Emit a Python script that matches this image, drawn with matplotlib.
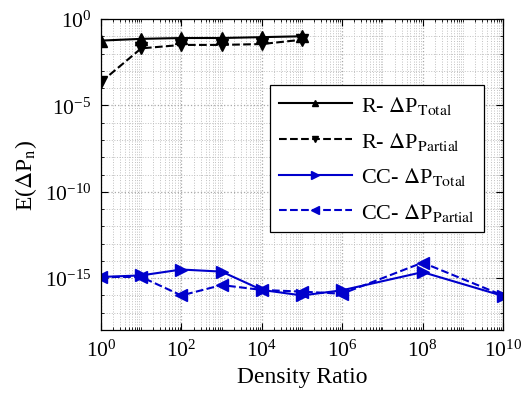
import matplotlib
matplotlib.use("Agg")
import matplotlib.pyplot as plt
import numpy as np
from matplotlib.ticker import LogLocator, NullFormatter, FixedLocator

plt.rcParams['font.family'] = ['Liberation Serif', 'DejaVu Serif']
plt.rcParams['mathtext.fontset'] = 'stix'

# Data (exponents of 10)
x_r = [1e0, 1e1, 1e2, 1e3, 1e4, 1e5]
r_total_exp = [-1.25, -1.15, -1.1, -1.1, -1.05, -1.0]
r_partial_exp = [-3.65, -1.7, -1.5, -1.5, -1.45, -1.2]

x_cc = [1e0, 1e1, 1e2, 1e3, 1e4, 1e5, 1e6, 1e8, 1e10]
cc_total_exp = [-14.93, -14.84, -14.5, -14.62, -15.68, -16.0, -15.7, -14.65, -16.03]
cc_partial_exp = [-14.93, -14.93, -16.0, -15.4, -15.68, -15.78, -15.9, -14.1, -16.0]

labels = [r'R- $\Delta$P$_{\mathrm{Total}}$', r'R- $\Delta$P$_{\mathrm{Partial}}$',
          r'CC- $\Delta$P$_{\mathrm{Total}}$', r'CC- $\Delta$P$_{\mathrm{Partial}}$']

fig = plt.figure(figsize=(5.25, 4.06), dpi=100)
ax = fig.add_axes([101/525, 1-331/406, 402/525, 311/406])

blue = '#0000cc'
ax.plot(x_r, 10.0**np.array(r_total_exp), '-', color='black', lw=1.5, marker='^', ms=8, label=labels[0])
ax.plot(x_r, 10.0**np.array(r_partial_exp), '--', color='black', lw=1.5, marker='v', ms=8, label=labels[1])
ax.plot(x_cc, 10.0**np.array(cc_total_exp), '-', color=blue, lw=1.5, marker='>', ms=9, label=labels[2])
ax.plot(x_cc, 10.0**np.array(cc_partial_exp), '--', color=blue, lw=1.5, marker='<', ms=9, label=labels[3])

ax.set_xscale('log')
ax.set_yscale('log')
ax.set_xlim(1e0, 1e10)
ax.set_ylim(1e-18, 1e0)

ax.xaxis.set_major_locator(FixedLocator([10.0**k for k in range(0, 11, 2)]))
ax.xaxis.set_minor_locator(LogLocator(base=10, subs=np.arange(1, 10), numticks=100))
ax.xaxis.set_minor_formatter(NullFormatter())
ax.yaxis.set_major_locator(FixedLocator([1e-15, 1e-10, 1e-5, 1e0]))
ax.yaxis.set_minor_locator(FixedLocator([10.0**k for k in range(-18, 1)]))
ax.yaxis.set_minor_formatter(NullFormatter())

ax.grid(True, which='major', color='#a8a8a8', linestyle=':', lw=0.9)
ax.grid(True, which='minor', color='#c0c0c0', linestyle=':', lw=0.7)
ax.tick_params(which='both', direction='in', top=True, right=True, labelsize=15.5, pad=7)
ax.tick_params(which='major', length=5)
ax.tick_params(which='minor', length=2.5)
for s in ax.spines.values():
    s.set_linewidth(0.9)

ax.set_xlabel('Density Ratio', fontsize=17)
ax.set_ylabel(r'E($\Delta$P$_{\mathrm{n}}$)', fontsize=17)

leg = ax.legend(loc='upper left', bbox_to_anchor=(0.42, 0.788), fontsize=16,
                handlelength=3.3, handletextpad=0.4, markerscale=0.6, fancybox=False,
                framealpha=1, edgecolor='black', borderpad=0.4, labelspacing=0.62,
                borderaxespad=0)
leg.get_frame().set_linewidth(0.9)

fig.savefig('out.png', dpi=100)
